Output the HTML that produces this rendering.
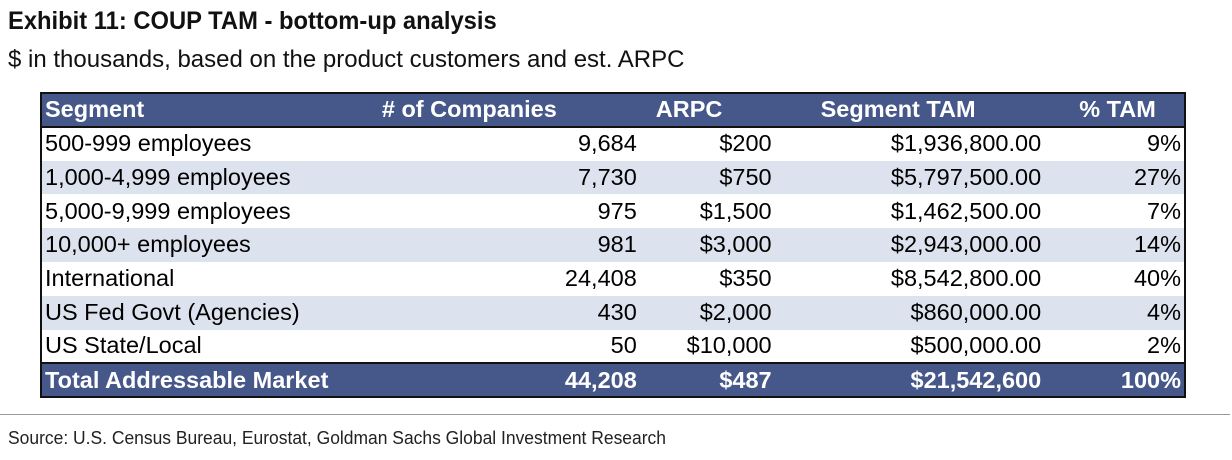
<!DOCTYPE html>
<html><head><meta charset="utf-8"><style>
body{margin:0;width:1232px;height:460px;background:#fff;position:relative;font-family:"Liberation Sans",Arial,sans-serif;overflow:hidden}
.t{position:absolute;white-space:nowrap}
#title{left:8px;top:7px;font-size:25px;font-weight:bold;color:#111;transform:scaleX(0.95);transform-origin:left top}
#sub{left:8px;top:46px;font-size:24px;color:#111;transform:scaleX(1.0);transform-origin:left top}
#tbl{position:absolute;left:40px;top:92px;width:1146px;border:2px solid #111;border-collapse:collapse;font-size:23.5px;color:#000}
#tbl td{height:33.8px;padding:0 3px;box-sizing:border-box;line-height:1}
#tbl tr.h td,#tbl tr.f td{background:#46588a;color:#fff;font-weight:bold}
#tbl tr.h td{border-bottom:2px solid #111}
#tbl tr.f td{border-top:2px solid #111}
#tbl tr.a td{background:#dde3ee}
.r{text-align:right}
#rule{position:absolute;left:0;top:414px;width:1230px;height:1px;background:#999}
#src{left:8px;top:428px;font-size:18px;color:#222;transform:scaleX(0.97);transform-origin:left top}
</style></head><body>
<div class="t" id="title">Exhibit 11: COUP TAM - bottom-up analysis</div>
<div class="t" id="sub">$ in thousands, based on the product customers and est. ARPC</div>
<table id="tbl">
<colgroup><col style="width:329px"><col style="width:271px"><col style="width:135px"><col style="width:270px"><col style="width:141px"></colgroup>
<tr class="h"><td>Segment</td><td style="padding-left:6px">&nbsp;# of Companies</td><td style="padding-left:16px">ARPC</td><td style="padding-left:46px">Segment TAM</td><td style="padding-left:35px">% TAM</td></tr>
<tr><td>500-999 employees</td><td class="r">9,684</td><td class="r">$200</td><td class="r">$1,936,800.00</td><td class="r">9%</td></tr>
<tr class="a"><td>1,000-4,999 employees</td><td class="r">7,730</td><td class="r">$750</td><td class="r">$5,797,500.00</td><td class="r">27%</td></tr>
<tr><td>5,000-9,999 employees</td><td class="r">975</td><td class="r">$1,500</td><td class="r">$1,462,500.00</td><td class="r">7%</td></tr>
<tr class="a"><td>10,000+ employees</td><td class="r">981</td><td class="r">$3,000</td><td class="r">$2,943,000.00</td><td class="r">14%</td></tr>
<tr><td>International</td><td class="r">24,408</td><td class="r">$350</td><td class="r">$8,542,800.00</td><td class="r">40%</td></tr>
<tr class="a"><td>US Fed Govt (Agencies)</td><td class="r">430</td><td class="r">$2,000</td><td class="r">$860,000.00</td><td class="r">4%</td></tr>
<tr><td>US State/Local</td><td class="r">50</td><td class="r">$10,000</td><td class="r">$500,000.00</td><td class="r">2%</td></tr>
<tr class="f"><td>Total Addressable Market</td><td class="r">44,208</td><td class="r">$487</td><td class="r">$21,542,600</td><td class="r">100%</td></tr>
</table>
<div id="rule"></div>
<div class="t" id="src">Source: U.S. Census Bureau, Eurostat, Goldman Sachs Global Investment Research</div>
</body></html>
